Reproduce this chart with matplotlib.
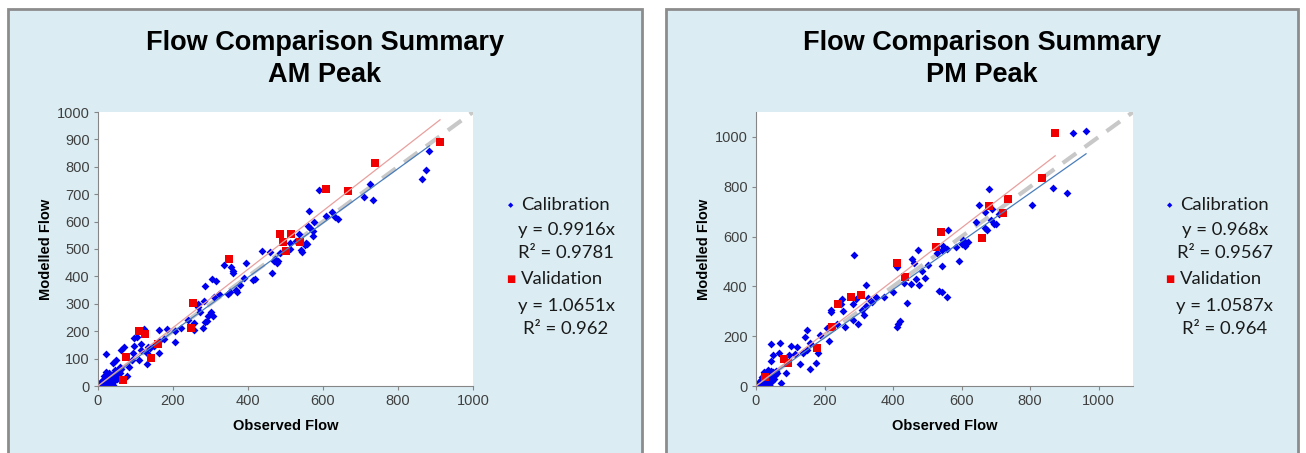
import numpy as np
import matplotlib
matplotlib.use('Agg')
import matplotlib.pyplot as plt
from matplotlib.patches import Rectangle

# AM peak - calibration (blue) and validation (red) sites
am_cal_x = [884, 875, 865, 733, 726, 710, 641, 631, 623, 609, 588, 577, 563, 561, 566, 572, 572,
            555, 557, 552, 536, 540, 545, 529, 513, 511, 484, 469, 473, 480, 477, 459, 465, 438,
            414, 418, 396, 389, 378, 369, 371, 347, 351, 356, 359, 360, 336, 322, 310, 314, 304,
            301, 306, 293, 290, 286, 286, 282, 273, 267, 266, 280, 257, 255, 240, 221, 205, 206,
            185, 177, 162, 162, 163, 149, 138, 132, 130, 123, 130, 114, 114, 109, 97, 103, 96,
            92, 90, 83, 76, 70, 61, 48, 41, 21, 20, 59,
            5, 8, 10, 12, 15, 18, 20, 22, 25, 28, 30, 32, 35, 38, 40, 42, 45, 48, 50, 55, 58,
            60, 3, 6, 12, 14, 25, 30, 35, 40, 42, 50, 52, 20, 28, 15, 45, 10, 2, 4, 7, 17]
am_cal_y = [857, 789, 757, 679, 736, 690, 609, 615, 634, 621, 714, 600, 640, 583, 576, 565, 547,
            522, 518, 515, 556, 495, 490, 529, 522, 499, 484, 456, 462, 456, 450, 490, 412, 492,
            386, 392, 450, 395, 367, 350, 344, 337, 344, 435, 414, 420, 443, 337, 323, 385, 390,
            270, 255, 254, 237, 234, 366, 310, 270, 300, 287, 211, 231, 204, 241, 210, 202, 162,
            207, 173, 204, 164, 119, 146, 137, 143, 122, 207, 79, 153, 130, 95, 176, 180, 146,
            119, 95, 70, 36, 143, 131, 95, 83, 117, 52, 70,
            3, 5, 12, 8, 20, 10, 25, 15, 30, 18, 35, 22, 40, 28, 45, 30, 38, 50, 42, 55, 48,
            62, 2, 10, 22, 4, 10, 5, 15, 2, 20, 25, 60, 40, 48, 35, 60, 18, 1, 6, 3, 12]
am_val_x = [66, 75, 108, 126, 140, 161, 248, 253, 350, 484, 494, 500, 515, 539, 609, 666, 740, 912]
am_val_y = [22, 107, 202, 188, 103, 154, 211, 304, 464, 556, 526, 492, 556, 525, 719, 710, 815, 891]
am_cal_slope, am_cal_r2 = 0.9916, 0.9781
am_val_slope, am_val_r2 = 1.0651, 0.962

# PM peak
pm_cal_x = [963, 924, 908, 866, 806, 679, 651, 643, 668, 690, 694, 701, 685, 668, 674, 709, 620,
            604, 610, 601, 583, 591, 560, 558, 546, 544, 544, 534, 543, 556, 527, 502, 493, 485,
            476, 468, 472, 456, 462, 452, 440, 432, 421, 410, 414, 412, 400, 373, 351, 339, 326,
            320, 315, 310, 320, 297, 287, 291, 284, 284, 252, 253, 248, 218, 218, 260, 236, 213,
            207, 188, 182, 174, 158, 149, 142, 149, 136, 129, 121, 115, 102, 96, 88, 70, 74, 68,
            51, 44, 43, 36, 22, 158,
            4, 6, 9, 12, 15, 18, 20, 23, 25, 28, 30, 33, 35, 38, 40, 44, 47, 50, 55, 58, 62,
            2, 8, 14, 16, 26, 32, 37, 42, 48, 53, 22, 30, 18, 45, 11, 3, 25, 35]
pm_cal_y = [1024, 1017, 773, 795, 725, 791, 725, 660, 698, 711, 652, 652, 668, 635, 626, 690, 580,
            586, 561, 570, 559, 503, 628, 551, 561, 545, 481, 382, 378, 357, 532, 484, 434, 462,
            405, 428, 545, 508, 492, 408, 334, 414, 262, 238, 249, 479, 376, 358, 356, 338, 354,
            405, 285, 305, 322, 249, 524, 348, 329, 265, 349, 302, 329, 307, 298, 238, 249, 182,
            233, 203, 134, 91, 174, 225, 198, 144, 131, 88, 155, 128, 160, 123, 51, 171, 13, 134,
            123, 168, 99, 64, 57, 70,
            3, 8, 5, 14, 20, 10, 28, 16, 32, 20, 38, 25, 44, 30, 48, 36, 42, 55, 46, 60, 52,
            1, 12, 3, 25, 8, 4, 12, 2, 20, 30, 40, 52, 35, 62, 20, 6, 2, 18]
pm_val_x = [26, 82, 92, 177, 221, 238, 278, 306, 411, 434, 524, 539, 660, 679, 720, 735, 834, 873]
pm_val_y = [37, 110, 91, 151, 235, 330, 357, 364, 492, 436, 559, 619, 596, 723, 694, 750, 837, 1017]
pm_cal_slope, pm_cal_r2 = 0.968, 0.9567
pm_val_slope, pm_val_r2 = 1.0587, 0.964

W, H = 1306, 453
bg = '#DBEDF3'
edge = '#8C8C8C'
blue = '#0000F0'
red = '#F00000'
tick_col = '#404040'

fig = plt.figure(figsize=(W / 100, H / 100), dpi=100)


def px(x0, y0, w, h):
    # pixel box (top-left origin) -> figure fraction
    return [x0 / W, 1 - (y0 + h) / H, w / W, h / H]


def panel(left, right, ax_box, lim, ticks, title, cal, val, lx):
    fig.patches.append(Rectangle((left / W, -0.1), (right - left) / W, 1 - 9 / H + 0.1,
                                 transform=fig.transFigure, facecolor=bg,
                                 edgecolor=edge, linewidth=2, zorder=-5))
    cx = (left + right) / 2
    fig.text(cx / W, 1 - 59 / H, title, ha='center', va='center', fontsize=19.5,
             fontweight='bold', family='Liberation Sans', linespacing=1.28)

    ax = fig.add_axes(px(*ax_box))
    ax.set_facecolor('white')
    (cx_, cy_, cs, cr2), (vx, vy, vs, vr2) = cal, val
    ax.plot([0, lim[1]], [0, lim[1]], color='#C8C8C8', lw=3, dashes=(4, 2.5), zorder=1)
    ax.plot([0, max(cx_)], [0, cs * max(cx_)], color='#4A7EBB', lw=0.9, zorder=4)
    ax.plot([0, max(vx)], [0, vs * max(vx)], color='#E8A09E', lw=0.9, zorder=4)
    ax.scatter(cx_, cy_, marker='D', s=16, color=blue, linewidths=0, zorder=2)
    ax.scatter(vx, vy, marker='s', s=38, color=red, linewidths=0, zorder=3)
    ax.set_xlim(lim)
    ax.set_ylim(lim)
    ax.set_xticks(ticks[0])
    ax.set_yticks(ticks[1])
    for s in ['top', 'right']:
        ax.spines[s].set_visible(False)
    for s in ['left', 'bottom']:
        ax.spines[s].set_color('#868686')
        ax.spines[s].set_linewidth(0.8)
    ax.tick_params(labelsize=10.5, colors='#868686', labelcolor=tick_col, length=3, width=0.8,
                   direction='out', pad=3)
    for lab in ax.get_xticklabels() + ax.get_yticklabels():
        lab.set_family('Liberation Sans')
    ax.set_xlabel('Observed Flow', fontsize=10.5, fontweight='bold', family='Liberation Sans',
                  labelpad=8)
    ax.set_ylabel('Modelled Flow', fontsize=10.5, fontweight='bold', family='Liberation Sans',
                  labelpad=3)

    # legend block with trendline equations
    lf = dict(fontsize=13.3, family='Lato', color='#1A1A1A', va='center')
    fig.text((lx - 10) / W, 1 - 205 / H, u'\u25c6', fontsize=5, color=blue, ha='center', va='center')
    fig.text(lx / W, 1 - 205 / H, 'Calibration', ha='left', **lf)
    fig.text((lx + 45) / W, 1 - 230 / H, 'y = %gx' % cs, ha='center', **lf)
    fig.text((lx + 45) / W, 1 - 253 / H, u'R\u00b2 = %g' % cr2, ha='center', **lf)
    fig.text((lx - 10) / W, 1 - 279 / H, u'\u25a0', fontsize=7, color=red, ha='center', va='center')
    fig.text(lx / W, 1 - 279 / H, 'Validation', ha='left', **lf)
    fig.text((lx + 45) / W, 1 - 306 / H, 'y = %gx' % vs, ha='center', **lf)
    fig.text((lx + 45) / W, 1 - 329 / H, u'R\u00b2 = %g' % vr2, ha='center', **lf)
    return ax


panel(8, 642, (98, 112, 375, 274), (0, 1000),
      (np.arange(0, 1001, 200), np.arange(0, 1001, 100)),
      'Flow Comparison Summary\nAM Peak',
      (am_cal_x, am_cal_y, am_cal_slope, am_cal_r2),
      (am_val_x, am_val_y, am_val_slope, am_val_r2), 521)
panel(666, 1298, (756, 112, 377, 274), (0, 1100),
      (np.arange(0, 1001, 200), np.arange(0, 1001, 200)),
      'Flow Comparison Summary\nPM Peak',
      (pm_cal_x, pm_cal_y, pm_cal_slope, pm_cal_r2),
      (pm_val_x, pm_val_y, pm_val_slope, pm_val_r2), 1180)

fig.savefig('out.png', dpi=100, facecolor='white')
